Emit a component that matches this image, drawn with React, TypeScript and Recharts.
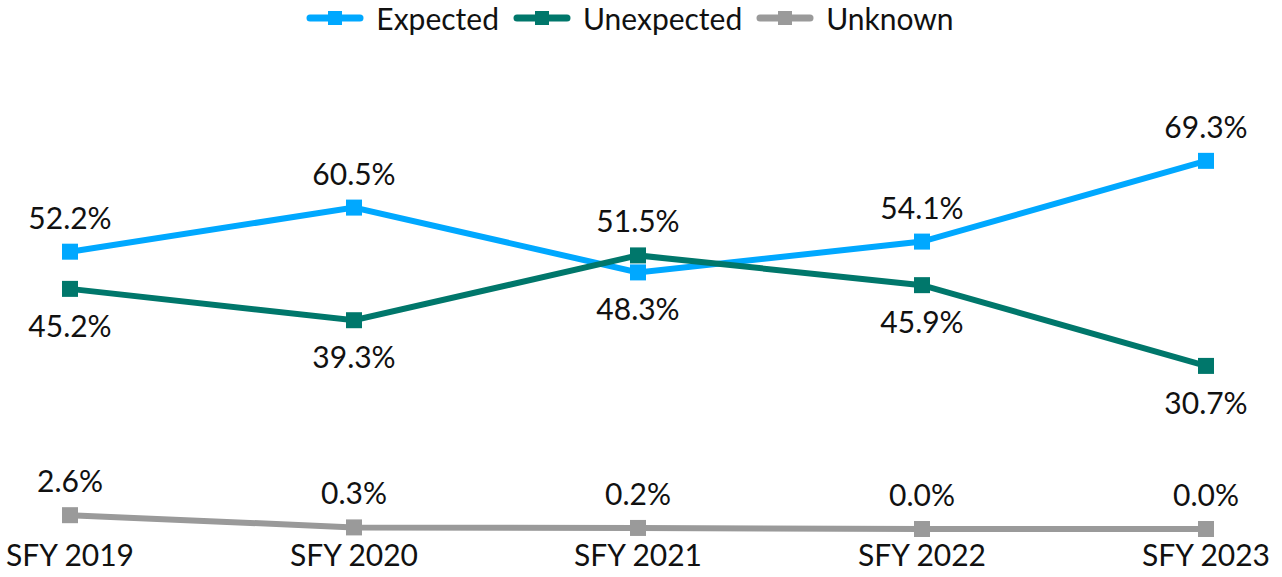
import { LineChart, Line, XAxis, YAxis } from 'recharts';

const years = ['SFY 2019', 'SFY 2020', 'SFY 2021', 'SFY 2022', 'SFY 2023'];
const expected = [52.2, 60.5, 48.3, 54.1, 69.3];
const unexpected = [45.2, 39.3, 51.5, 45.9, 30.7];
const unknown = [2.6, 0.3, 0.2, 0.0, 0.0];

const data = years.map((name, i) => ({
  name,
  expected: expected[i],
  unexpected: unexpected[i],
  unknown: unknown[i],
}));

const font = 'Lato, "Open Sans", sans-serif';

const series = [
  { key: 'expected', name: 'Expected', color: '#00A8FF' },
  { key: 'unexpected', name: 'Unexpected', color: '#00776B' },
  { key: 'unknown', name: 'Unknown', color: '#9A9A9A' },
];

// which points get their label under the marker
const below: Record<string, number[]> = {
  expected: [2],
  unexpected: [0, 1, 3, 4],
  unknown: [],
};

function makeLabel(key: string) {
  return (props: any) => {
    const { x, y, value, index } = props;
    const dy = below[key].includes(index) ? 36 : -35;
    return (
      <text
        x={x}
        y={y + dy}
        textAnchor="middle"
        dominantBaseline="central"
        fontFamily={font}
        fontSize={30}
        fill="#111"
      >
        {value.toFixed(1)}%
      </text>
    );
  };
}

function LegendContent() {
  return (
    <div style={{ display: 'flex', justifyContent: 'center', gap: 14, fontFamily: font, fontSize: 30, color: '#111', paddingRight: 22 }}>
      {series.map((s) => (
        <div key={s.key} style={{ display: 'flex', alignItems: 'center', gap: 12 }}>
          <svg width={58} height={20}>
            <line x1={4} y1={10} x2={54} y2={10} stroke={s.color} strokeWidth={7} strokeLinecap="round" />
            <rect x={22} y={3} width={14} height={14} fill={s.color} />
          </svg>
          <span>{s.name}</span>
        </div>
      ))}
    </div>
  );
}

export default function App() {
  return (
    <div style={{ position: 'relative', width: 1282, height: 577 }}>
      <style>{'body{margin:0}'}</style>
      <LineChart width={1282} height={577} data={data} margin={{ top: 104, right: 76, left: 70, bottom: 18 }}>
        <XAxis
          dataKey="name"
          scale="point"
          padding={{ left: 0, right: 0 }}
          axisLine={false}
          tickLine={false}
          tickSize={0}
          tickMargin={16}
          height={30}
          tick={{ fontFamily: font, fontSize: 30, fill: '#111' }}
          interval={0}
        />
        <YAxis hide domain={[0, 80]} />
        {series.map((s) => (
          <Line
            key={s.key}
            dataKey={s.key}
            name={s.name}
            stroke={s.color}
            strokeWidth={6}
            dot={(p: any) => <rect key={p.index} x={p.cx - 8} y={p.cy - 8} width={16} height={16} fill={s.color} />}
            activeDot={false}
            label={makeLabel(s.key)}
            isAnimationActive={false}
          />
        ))}
      </LineChart>
      <div style={{ position: 'absolute', top: 0, left: 0, width: 1282 }}>
        <LegendContent />
      </div>
    </div>
  );
}
